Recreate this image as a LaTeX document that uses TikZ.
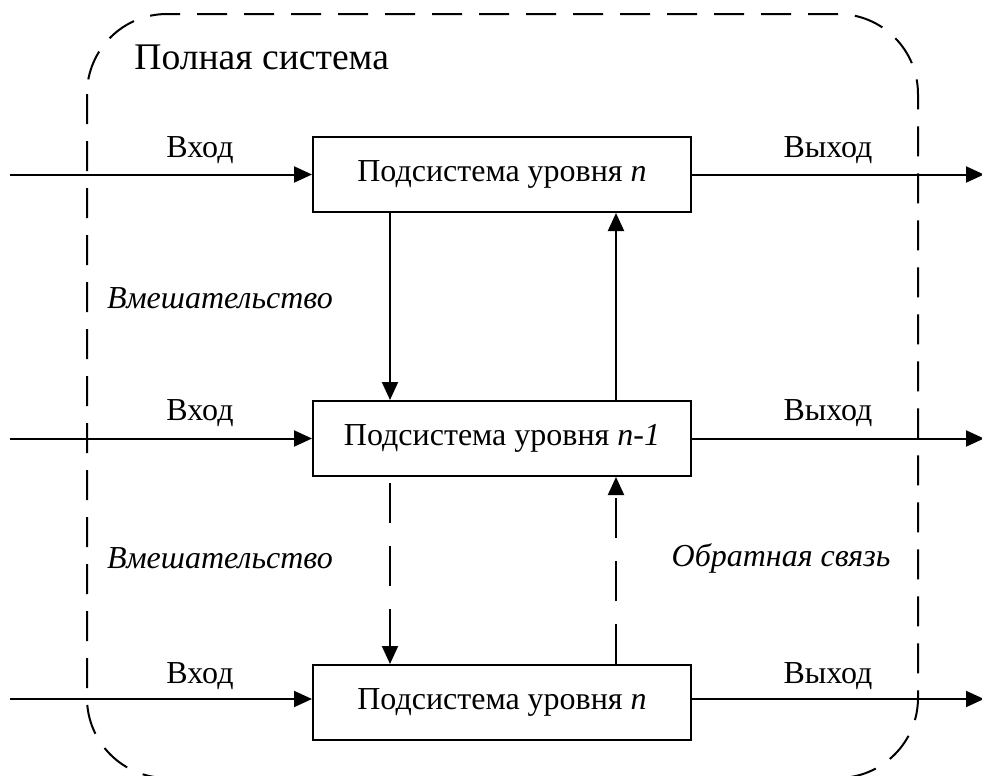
\documentclass[tikz,border=0pt]{standalone}
\usepackage{fontspec}
\setmainfont{Liberation Serif}
\usetikzlibrary{arrows.meta}
\begin{document}
\begin{tikzpicture}[x=0.5pt,y=-0.5pt,
  subsys/.style={draw,line width=1pt,minimum width=189pt,minimum height=37.5pt,
    inner sep=0pt,font=\fontsize{16}{19}\selectfont},
  flow/.style={line width=1pt,-{Triangle[length=9pt,width=8pt]}},
  dflow/.style={flow,dash pattern=on 20pt off 11.5pt},
  lbl/.style={font=\fontsize{16}{19}\selectfont,inner sep=0pt},
  ilbl/.style={font=\fontsize{16}{19}\selectfont\itshape,inner sep=0pt},
  frame/.style={line width=1pt,dash pattern=on 15pt off 8.5pt,rounded corners=40pt}]
\useasboundingbox (0,0) rectangle (982,776);
\fill[white] (0,0) rectangle (982,776);

% outer boundary of the whole system
\draw[frame] (87,14) rectangle (918,778);
\node[anchor=west,inner sep=0pt,font=\fontsize{18.8}{22}\selectfont] (title) at (134,57) {Полная система};

% the three subsystems
\node[subsys] (box1) at (502,174.5) {Подсистема уровня \textit{n}};
\node[subsys] (box2) at (502,438.5) {Подсистема уровня \textit{n-1}};
\node[subsys] (box3) at (502,702.5) {Подсистема уровня \textit{n}};

% free ends of the inputs and outputs
\coordinate (in1) at (10,174.5);
\coordinate (in2) at (10,438.5);
\coordinate (in3) at (10,699);
\coordinate (out1) at (984,174.5);
\coordinate (out2) at (984,438.5);
\coordinate (out3) at (984,699);

\draw[flow] (in1) -- (box1.west);
\draw[flow] (in2) -- (box2.west);
\draw[flow] (in3) -- (in3 -| box3.west);
\draw[flow] (box1.east) -- (out1);
\draw[flow] (box2.east) -- (out2);
\draw[flow] (in3 -| box3.east) -- (out3);

\node[lbl] (vin1) at (200,150) {Вход};
\node[lbl] (vin2) at (200,413) {Вход};
\node[lbl] (vin3) at (200,676) {Вход};
\node[lbl] (vout1) at (828,150) {Выход};
\node[lbl] (vout2) at (828,413) {Выход};
\node[lbl] (vout3) at (828,676) {Выход};

% interventions and feedback between levels
\draw[flow] (box1.south -| 390,0) -- (box2.north -| 390,0);
\draw[flow] (box2.north -| 616,0) -- (box1.south -| 616,0);
\draw[dflow,dash phase=-3pt] (box2.south -| 390,0) -- (box3.north -| 390,0);
\draw[dflow,dash phase=0pt] (box3.north -| 616,0) -- (box2.south -| 616,0);

\node[ilbl] (int1) at (220,298) {Вмешательство};
\node[ilbl] (int2) at (220,558) {Вмешательство};
\node[ilbl] (fb) at (781,558) {Обратная связь};
\end{tikzpicture}
\end{document}
